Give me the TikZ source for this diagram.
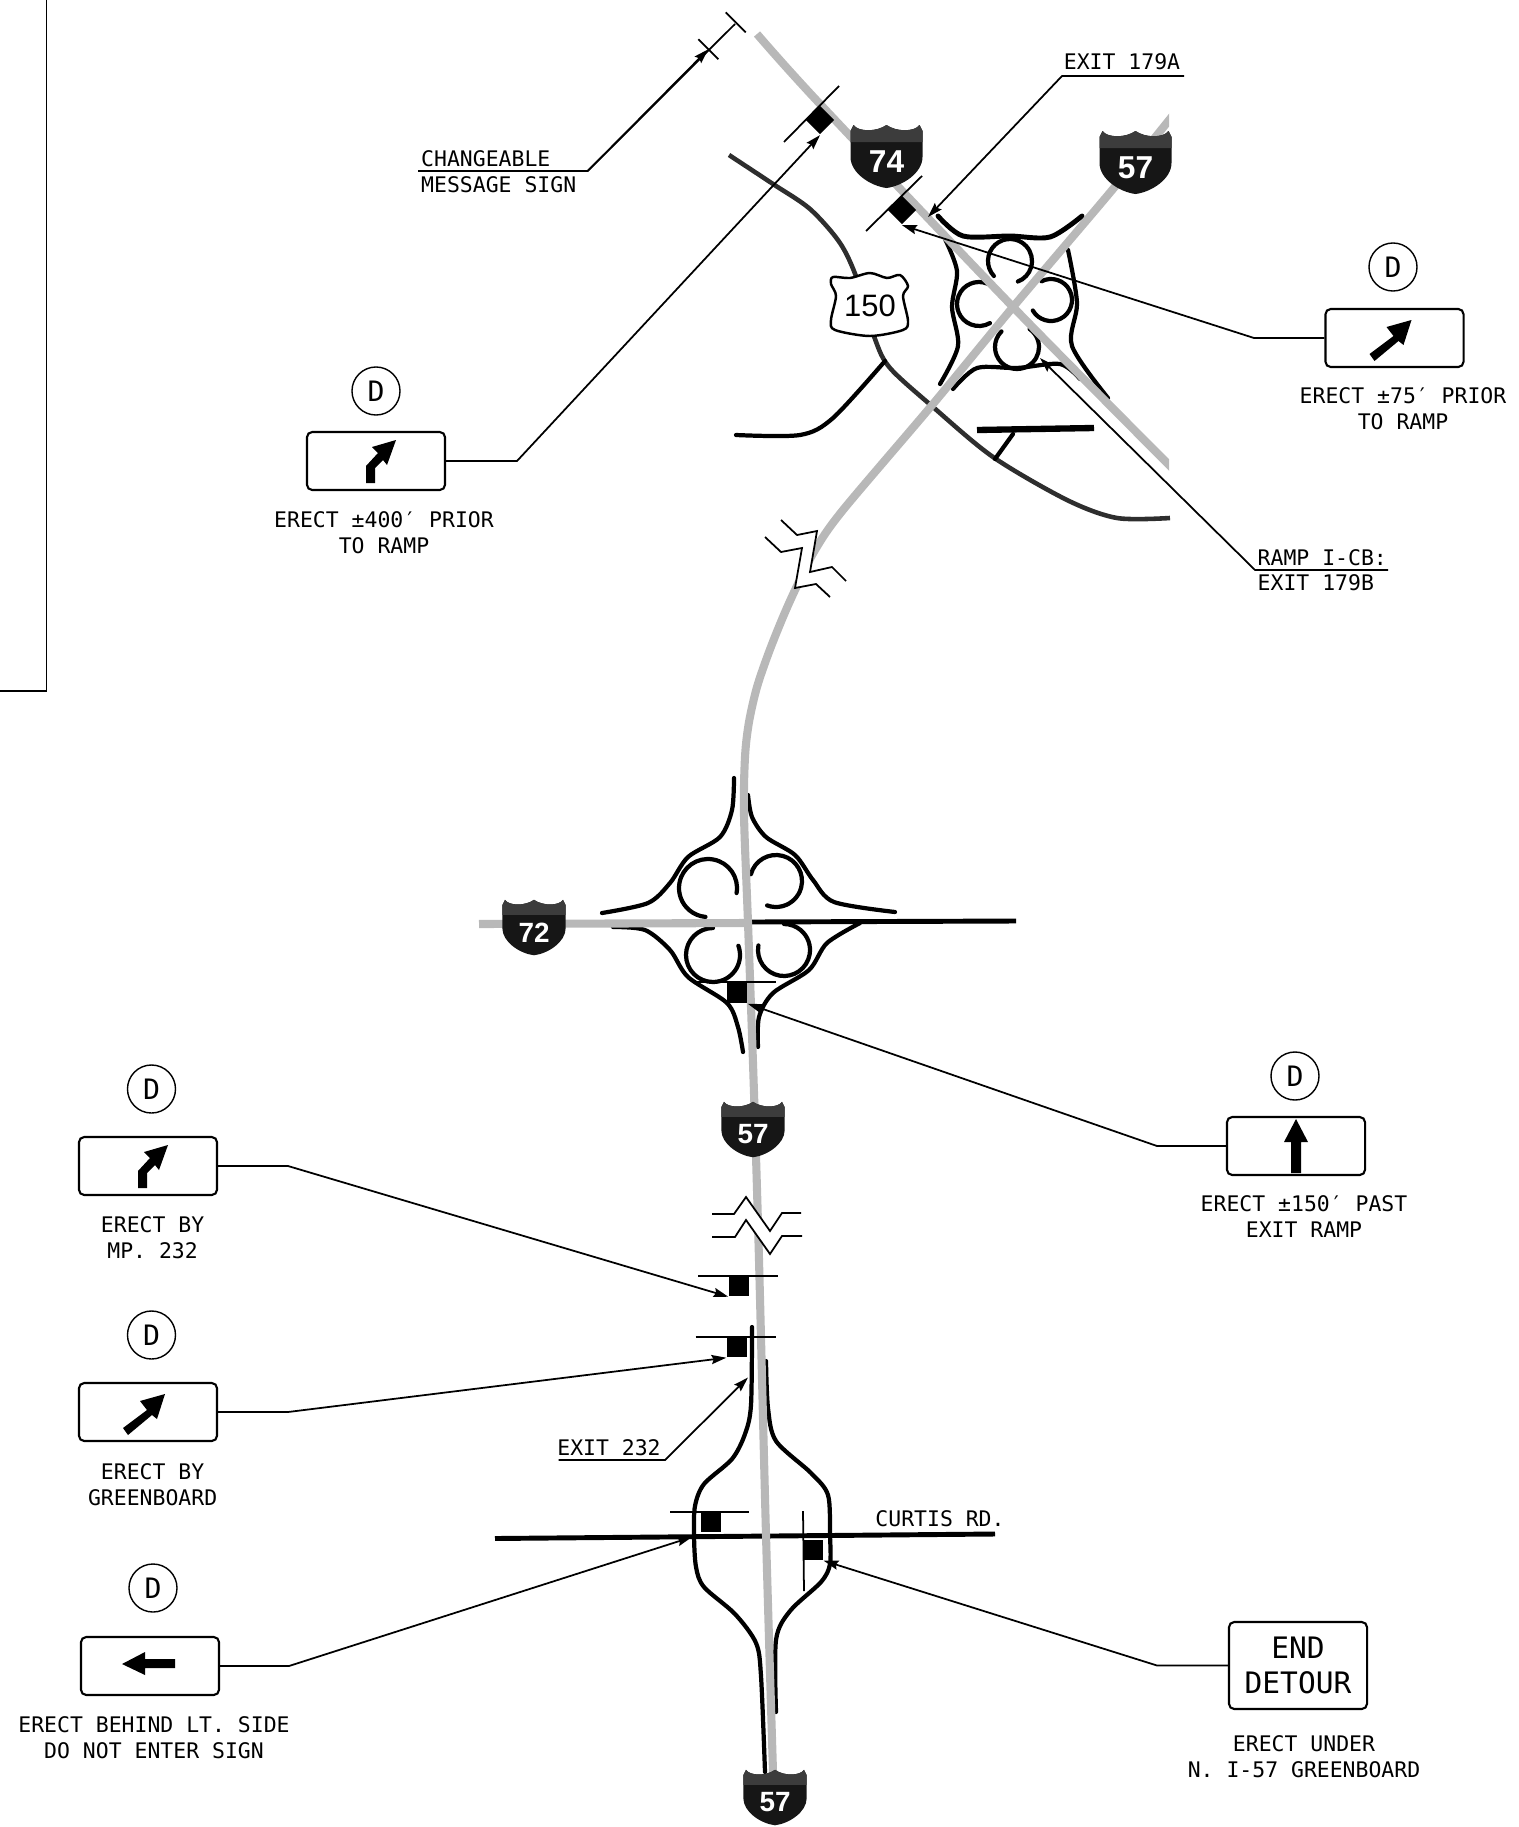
\documentclass[tikz,border=0pt]{standalone}
\usepackage{fontspec}
\setmainfont{DejaVu Sans Mono}
\newfontfamily\shieldfont{Liberation Sans}
\usetikzlibrary{arrows.meta}

\definecolor{roadgray}{HTML}{B8B8B8}
\definecolor{shielddark}{HTML}{161616}
\definecolor{shieldband}{HTML}{3C3C3C}

\tikzset{
  road/.style={draw=roadgray, line width=2.3pt},
  ramp/.style={draw=black, line width=1.2pt, line cap=round},
  local road/.style={draw=black!82, line width=1.3pt},
  leader/.style={draw=black, line width=0.5pt, -{Stealth[length=4.2pt,width=2.6pt,inset=0.6pt]}},
  plain line/.style={draw=black, line width=0.5pt},
  signbox/.style={draw, rounded corners=1.5pt, line width=0.6pt, minimum width=1.38cm, minimum height=0.58cm, inner sep=0pt},
  typecircle/.style={draw, circle, line width=0.4pt, minimum size=0.48cm, inner sep=0pt, font=\fontsize{8}{8}\selectfont},
  post/.style={fill=black, minimum size=0.2cm, inner sep=0pt},
  note/.style={align=center, inner sep=0pt, yshift=-0.01cm, font=\fontsize{6.1}{7.4}\selectfont},
  shield/.pic={
    \fill[shielddark] (-33,-32) .. controls (-28,-25) and (-10,-25) .. (0,-32) .. controls (10,-25) and (28,-25) .. (33,-32)
      -- (36,-26) -- (36,0) .. controls (36,16) and (16,29) .. (0,31) .. controls (-16,29) and (-36,16) .. (-36,0) -- (-36,-26) -- cycle;
    \fill[shieldband] (-33,-32) .. controls (-28,-25) and (-10,-25) .. (0,-32) .. controls (10,-25) and (28,-25) .. (33,-32)
      -- (36,-26) -- (36,-15) -- (-36,-15) -- (-36,-26) -- cycle;
    \node[white, inner sep=0pt, transform shape, font=\shieldfont\bfseries\fontsize{9}{9}\selectfont] (-num) at (0,5) {\tikzpictext};
  },
  bentarrow/.pic={\fill (-10,22) -- (-1,22) -- (-1,7) -- (7,-1) -- (11,4) -- (20,-21) -- (-4,-14) -- (2,-8) -- (-10,5) -- cycle;},
  slantarrow/.pic={\fill (17,-18) -- (-8,-11) -- (-1,-2) -- (-25,16) -- (-20,23) -- (4,3) -- (9,7) -- cycle;},
  straightarrow/.pic={\fill (0,-27) -- (12,-4) -- (5,-4) -- (5,27) -- (-5,27) -- (-5,-4) -- (-12,-4) -- cycle;},
  backarrow/.pic={\fill (-28,-2) -- (-5,-14) -- (-5,-7) -- (25,-7) -- (25,2) -- (-5,2) -- (-5,9) -- cycle;},
}

\begin{document}
\begin{tikzpicture}[x=0.01cm, y=-0.01cm]
  \useasboundingbox (0,0) rectangle (1519,1827);

  \draw[plain line] (46.6,0) -- (46.6,691) -- (0,691);

  % local roads and ramps
  \draw[local road] plot[smooth] coordinates {(729,155) (773,184) (810,209) (840,243) (857,279) (875,339) (890,368) (933,407) (993,457) (1067,500) (1117,518) (1170,518)};
  \draw[ramp] plot[smooth] coordinates {(736,435) (800,435) (833,418) (885,361)};
  \draw[ramp, line width=1.8pt, line cap=butt] (977,430) -- (1094,428);
  \draw[ramp] (1013,434) -- (995,459);

  \draw[ramp, line width=1.4pt] plot[smooth] coordinates {(938,216) (963,236) (1010,236) (1050,237) (1082,216)};
  \draw[ramp] plot[smooth] coordinates {(945,239) (957,271) (952,307) (958,346) (940,384)};
  \draw[ramp] plot[smooth] coordinates {(1068,250) (1077,303) (1072,346) (1108,398)};
  \draw[ramp] plot[smooth] coordinates {(953,389) (977,368) (1017,368) (1060,364) (1080,379)};
  \draw[ramp, shift={(1010,261)}] (137:22) arc[start angle=137, end angle=429, radius=22];
  \draw[ramp, shift={(1051,300)}] (243:21) arc[start angle=243, end angle=510, radius=21];
  \draw[ramp, shift={(979,304)}] (-68:22) arc[start angle=-68, end angle=-300, radius=22];
  \draw[ramp, shift={(1017,347)}] (225:22) arc[start angle=225, end angle=-55, radius=22];

  \draw[ramp] plot[smooth] coordinates {(734,778) (732,810) (720,837) (688,857) (670,883) (648,903) (602,913)};
  \draw[ramp] plot[smooth] coordinates {(748,795) (752,817) (766,837) (795,855) (813,880) (834,902) (895,912)};
  \draw[ramp] plot[smooth] coordinates {(613,927) (645,930) (670,950) (688,977) (727,1003) (738,1027) (743,1052)};
  \draw[ramp] plot[smooth] coordinates {(860,923) (827,943) (809,970) (773,993) (759,1017) (758,1047)};
  \draw[ramp, shift={(708,888)}] (10:29) arc[start angle=10, end angle=-265, radius=29];
  \draw[ramp, shift={(776,881)}] (195:26) arc[start angle=195, end angle=470, radius=26];
  \draw[ramp, shift={(713,955)}] (270:27) arc[start angle=270, end angle=-20, radius=27];
  \draw[ramp, shift={(784,950)}] (190:26) arc[start angle=190, end angle=-90, radius=26];
  \draw[ramp, line width=1.4pt, line cap=butt] (752,922) -- (1016,921);

  \draw[ramp, line width=1.4pt, line cap=butt] (495,1538.5) -- (995,1534);
  \draw[ramp] plot[smooth] coordinates {(752,1327) (751,1405) (745,1434) (732,1459) (704,1484) (695,1506) (694,1535) (696,1567) (704,1587) (735,1614) (756,1643) (761,1676) (765,1772)};
  \draw[ramp] plot[smooth] coordinates {(766,1361) (768,1408) (776,1441) (811,1473) (828,1495) (830,1535) (830,1564) (821,1582) (790,1611) (776,1640) (776,1712)};

  % interstates
  \begin{scope}
    \clip (0,0) rectangle (1169,1827);
    \draw[road] plot[smooth] coordinates {(757,34) (820,104) (1013,307) (1178,474)};
    \draw[road] (479,924) -- (748,923);
    \draw[road] plot[smooth] coordinates {(1178,109) (1113,189) (1013,307) (933,404) (843,510) (815,550) (796,588) (783,617) (769,652) (757,687) (749,722) (745,757) (744,815) (748,923) (754,1093) (759,1260) (766,1535) (773,1772)};
  \end{scope}

  % break lines
  \fill[white] (781,520) -- (797,535) -- (817,531) -- (810,572) -- (832,567) -- (846,581) -- (830,597) -- (816,584) -- (795,588) -- (802,548) -- (781,552) -- (765,537) -- cycle;
  \draw[plain line] (781,520) -- (797,535) -- (817,531) -- (810,572) -- (832,567) -- (846,581);
  \draw[plain line] (765,537) -- (781,552) -- (802,548) -- (795,588) -- (816,584) -- (830,597);
  \fill[white] (712,1214) -- (734,1214) -- (746,1197) -- (770,1231) -- (782,1213) -- (801,1213) -- (802,1236) -- (782,1236) -- (770,1254) -- (746,1220) -- (735,1237) -- (712,1237) -- cycle;
  \draw[plain line] (712,1214) -- (734,1214) -- (746,1197) -- (770,1231) -- (782,1213) -- (801,1213);
  \draw[plain line] (712,1237) -- (735,1237) -- (746,1220) -- (770,1254) -- (782,1236) -- (802,1236);

  % route shields
  \pic[pic text=74] (shield74) at (886.5,157) {shield};
  \pic[pic text=57] (shield57a) at (1135.5,163) {shield};
  \pic[pic text=72, scale=.88] (shield72) at (534,928) {shield};
  \pic[pic text=57, scale=.88] (shield57b) at (753,1130) {shield};
  \pic[pic text=57, scale=.88] (shield57c) at (775,1798) {shield};
  \draw[fill=white, line width=0.7pt, shift={(870,304)}] plot[smooth cycle, tension=.5] coordinates {(-37,-27) (-20,-26) (0,-31) (17,-26) (30,-29) (38,-18) (33,-8) (38,17) (33,26) (0,32) (-35,26) (-39,16) (-34,-8) (-39,-20)};
  \node[inner sep=0pt, font=\shieldfont\fontsize{8.8}{9}\selectfont] (us150) at (870,306) {150};

  % posts on the roadside
  \node[post, rotate=45] (postcms) at (820,120) {};
  \node[post, rotate=45] (postexita) at (902,210) {};
  \node[post] (postmid) at (737,993) {};
  \node[post] (postmpa) at (739,1286) {};
  \node[post] (postgreen) at (737,1347) {};
  \node[post] (postcurtis) at (710.5,1522) {};
  \node[post] (postend) at (813,1550) {};
  \draw[plain line] (784,142) -- (839,86);
  \draw[plain line] (866,231) -- (922,176);
  \draw[plain line] (695,982) -- (776,982);
  \draw[plain line] (698,1276) -- (778,1276);
  \draw[plain line] (695.5,1337) -- (775.5,1337);
  \draw[plain line] (670,1512) -- (749,1512);
  \draw[plain line] (803,1511) -- (804,1591);

  % signs
  \node[typecircle] (circa) at (1393,267) {D};
  \node[signbox] (signa) at (1394.5,338) {};
  \pic at (signa) {slantarrow};
  \node[note] (notea) at (1403,408) {ERECT ±75′ PRIOR\\TO RAMP};

  \node[typecircle] (circb) at (376,391) {D};
  \node[signbox] (signb) at (376,461) {};
  \pic at (signb) {bentarrow};
  \node[note] (noteb) at (384,532) {ERECT ±400′ PRIOR\\TO RAMP};

  \node[typecircle] (circc) at (1295,1076) {D};
  \node[signbox] (signc) at (1296,1146) {};
  \pic at (signc) {straightarrow};
  \node[note] (notec) at (1304,1216) {ERECT ±150′ PAST\\EXIT RAMP};

  \node[typecircle] (circd) at (151.5,1089) {D};
  \node[signbox] (signd) at (148,1166) {};
  \pic at (signd) {bentarrow};
  \node[note] (noted) at (152.6,1237) {ERECT BY\\MP. 232};

  \node[typecircle] (circe) at (151.5,1335) {D};
  \node[signbox] (signe) at (148,1412) {};
  \pic at (signe) {slantarrow};
  \node[note] (notee) at (152.6,1484) {ERECT BY\\GREENBOARD};

  \node[typecircle] (circf) at (153,1588) {D};
  \node[signbox] (signf) at (150,1666) {};
  \pic at (signf) {backarrow};
  \node[note] (notef) at (154,1737) {ERECT BEHIND LT. SIDE\\DO NOT ENTER SIGN};

  \node[signbox, minimum height=0.87cm, align=center, font=\fontsize{8.4}{10}\selectfont] (signg) at (1298,1665.5) {END\\DETOUR};
  \node[note] (noteg) at (1304,1756) {ERECT UNDER\\N. I-57 GREENBOARD};

  % callout texts
  \node[note, anchor=west] (cms) at (420.5,158) {CHANGEABLE};
  \node[note, anchor=west] (cmsb) at (420.5,184) {MESSAGE SIGN};
  \node[note] (exita) at (1122,61) {EXIT 179A};
  \node[note, anchor=west] (rampcb) at (1257,557) {RAMP I-CB:};
  \node[note, anchor=west] (exitb) at (1257,582) {EXIT 179B};
  \node[note] (exitc) at (609,1447) {EXIT 232};
  \node[note] (curtis) at (940,1518) {CURTIS RD.};

  % callout ends
  \coordinate (cmsa) at (418,171);
  \coordinate (cmsk) at (587.7,171);
  \coordinate (cmstop) at (735,24);
  \coordinate (cmstip) at (708.3,49.3);
  \coordinate (exitas) at (1184,76);
  \coordinate (exitak) at (1062,76);
  \coordinate (exitatip) at (928,217);
  \coordinate (rampa) at (1388,570);
  \coordinate (rampb) at (1255,570);
  \coordinate (ramptip) at (1040,358);
  \coordinate (exitcs) at (558.6,1460);
  \coordinate (exitck) at (665,1460);
  \coordinate (exitctip) at (748,1377.5);
  \coordinate (curtistip) at (692,1537);
  \coordinate (signbk) at (517,461);
  \coordinate (signak) at (1254,338);
  \coordinate (signck) at (1157,1146);
  \coordinate (signdk) at (288,1166);
  \coordinate (signek) at (288,1412);
  \coordinate (signfk) at (289,1666);
  \coordinate (signgk) at (1157,1665.5);

  \draw[plain line] (cmsa) -- (cmsk) -- (cmstop);
  \draw[leader] (cmsk) -- (cmstip);
  \draw[plain line] (725.7,12.3) -- (745.7,32.3);
  \draw[plain line] (698.3,39.3) -- (718.3,59.3);
  \draw[leader] (exitas) -- (exitak) -- (exitatip);
  \draw[leader] (rampa) -- (rampb) -- (ramptip);
  \draw[leader] (exitcs) -- (exitck) -- (exitctip);
  \draw[leader] (signb.east) -- (signbk) -- (postcms.south west);
  \draw[leader] (signa.west) -- (signak) -- (postexita.south west);
  \draw[leader] (signc.west) -- (signck) -- (postmid.south east);
  \draw[leader] (signd.east) -- (signdk) -- (postmpa.south west);
  \draw[leader] (signe.east) -- (signek) -- (postgreen.south west);
  \draw[leader] (signf.east) -- (signfk) -- (curtistip);
  \draw[leader] (signg.west) -- (signgk) -- (postend.south east);

\end{tikzpicture}
\end{document}
